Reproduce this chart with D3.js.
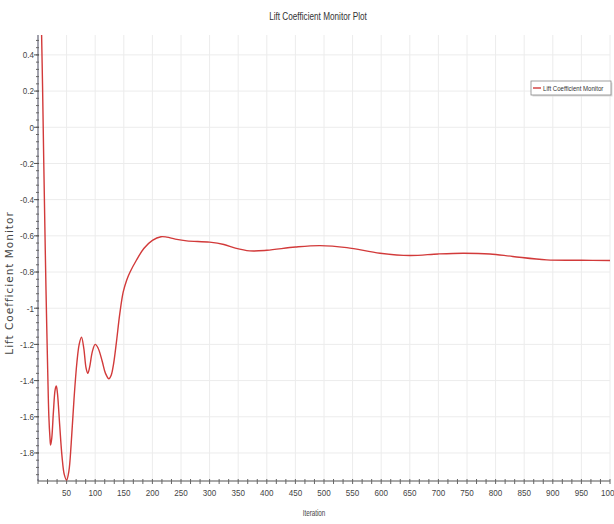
<!DOCTYPE html>
<html>
<head>
<meta charset="utf-8">
<script src="https://cdn.jsdelivr.net/npm/d3@7"></script>
<style>
  html, body { margin: 0; padding: 0; background: #fff; }
  svg { display: block; }
  .narrow { font-family: "Liberation Sans", Arial, sans-serif; }
</style>
</head>
<body>
<svg id="chart" width="614" height="524"></svg>
<script>
// Lift coefficient history over solver iterations
const iterations = [6, 8, 10, 12, 14, 17, 19, 21, 22, 24, 27, 30, 32, 34, 38, 42, 46, 50, 54, 58, 63, 68, 72, 76, 80, 84, 87, 90, 95, 100, 105, 112, 118, 124, 128, 132, 137, 143, 149, 155, 161, 172, 185, 200, 215, 225, 240, 260, 300, 325, 345, 370, 400, 450, 493, 540, 598, 650, 700, 743, 790, 830, 889, 950, 1000];
const liftCoefficient = [0.56, 0.22, -0.18, -0.55, -0.9, -1.35, -1.6, -1.72, -1.757, -1.72, -1.57, -1.45, -1.43, -1.47, -1.65, -1.82, -1.92, -1.95, -1.9, -1.75, -1.5, -1.3, -1.2, -1.16, -1.22, -1.33, -1.36, -1.33, -1.24, -1.2, -1.22, -1.29, -1.36, -1.39, -1.37, -1.31, -1.19, -1.03, -0.91, -0.845, -0.80, -0.735, -0.67, -0.625, -0.605, -0.607, -0.618, -0.628, -0.635, -0.648, -0.668, -0.683, -0.68, -0.662, -0.654, -0.665, -0.696, -0.709, -0.70, -0.696, -0.70, -0.714, -0.733, -0.735, -0.736];

const xTickValues = d3.range(50, 1001, 50);
const yTickValues = [0.4, 0.2, 0, -0.2, -0.4, -0.6, -0.8, -1, -1.2, -1.4, -1.6, -1.8];
const yTickLabels = ["0.4", "0.2", "0", "-0.2", "-0.4", "-0.6", "-0.8", "-1", "-1.2", "-1.4", "-1.6", "-1.8"];

const chartTitle = "Lift Coefficient Monitor Plot";
const xTitle = "Iteration";
const yTitle = "Lift Coefficient Monitor";
const seriesName = "Lift Coefficient Monitor";

const svg = d3.select("#chart");
const plot = { left: 38, right: 610, top: 35, bottom: 481 };

const x = d3.scaleLinear().domain([0, 1000]).range([plot.left, plot.right]);
const y = d3.scaleLinear().domain([-1.955, 0.51]).range([plot.bottom, plot.top]);

// grid
const grid = svg.append("g");
grid.selectAll("line.v").data(xTickValues).join("line")
  .attr("x1", d => x(d)).attr("x2", d => x(d))
  .attr("y1", plot.top).attr("y2", plot.bottom)
  .attr("stroke", "#ececec").attr("stroke-width", 1);
grid.selectAll("line.h").data(yTickValues).join("line")
  .attr("x1", plot.left).attr("x2", plot.right)
  .attr("y1", d => y(d)).attr("y2", d => y(d))
  .attr("stroke", "#ececec").attr("stroke-width", 1);

// minor tick positions
const xMinor = d3.range(0, 1001, 50 / 3).map(v => Math.round(v * 1000) / 1000);
const yMinor = d3.range(-1.92, 0.51, 0.04).map(v => Math.round(v * 100) / 100);

// x axis
const xAxis = svg.append("g").attr("transform", `translate(0,${plot.bottom})`);
xAxis.append("line").attr("x1", plot.left).attr("x2", plot.right)
  .attr("stroke", "#555").attr("stroke-width", 1.2);
xAxis.selectAll("line.minor").data(xMinor).join("line")
  .attr("x1", d => x(d)).attr("x2", d => x(d)).attr("y1", -2).attr("y2", 3)
  .attr("stroke", "#666").attr("stroke-width", 1);
xAxis.selectAll("text").data(xTickValues).join("text")
  .attr("class", "narrow")
  .attr("x", d => x(d)).attr("y", 15)
  .attr("text-anchor", "middle").attr("font-size", 9.5).attr("fill", "#444")
  .attr("transform", d => `translate(${x(d)},0) scale(0.85,1) translate(${-x(d)},0)`)
  .text(d => d);

// y axis
const yAxis = svg.append("g").attr("transform", `translate(${plot.left},0)`);
yAxis.append("line").attr("y1", plot.top).attr("y2", plot.bottom)
  .attr("stroke", "#667").attr("stroke-width", 1.2);
yAxis.selectAll("line.minor").data(yMinor).join("line")
  .attr("y1", d => y(d)).attr("y2", d => y(d)).attr("x1", -2).attr("x2", 1)
  .attr("stroke", "#666").attr("stroke-width", 1);
yAxis.selectAll("line.major").data(yTickValues).join("line")
  .attr("y1", d => y(d)).attr("y2", d => y(d)).attr("x1", -4).attr("x2", 1)
  .attr("stroke", "#555").attr("stroke-width", 1);
yAxis.selectAll("text").data(yTickValues).join("text")
  .attr("class", "narrow")
  .attr("x", -4).attr("y", d => y(d)).attr("dy", "0.35em")
  .attr("text-anchor", "end").attr("font-size", 9.5).attr("fill", "#444")
  .attr("transform", "translate(-4,0) scale(0.85,1) translate(4,0)")
  .text((d, i) => yTickLabels[i]);

// series
svg.append("clipPath").attr("id", "plotClip").append("rect")
  .attr("x", plot.left).attr("y", plot.top)
  .attr("width", plot.right - plot.left).attr("height", plot.bottom - plot.top + 2);

const points = iterations.map((it, i) => [it, liftCoefficient[i]]);
const line = d3.line().x(d => x(d[0])).y(d => y(d[1])).curve(d3.curveCatmullRom.alpha(0.5));
svg.append("path").datum(points)
  .attr("clip-path", "url(#plotClip)")
  .attr("d", line)
  .attr("fill", "none").attr("stroke", "#d23a3a").attr("stroke-width", 1.4);

// titles
svg.append("text").attr("class", "narrow")
  .attr("x", 318).attr("y", 20).attr("text-anchor", "middle")
  .attr("font-size", 10).attr("fill", "#333")
  .attr("transform", "translate(318,0) scale(0.82,1) translate(-318,0)")
  .text(chartTitle);
svg.append("text").attr("class", "narrow")
  .attr("x", 314).attr("y", 516).attr("text-anchor", "middle")
  .attr("font-size", 9).attr("fill", "#444")
  .attr("transform", "translate(314,0) scale(0.7,1) translate(-314,0)")
  .text(xTitle);
svg.append("text")
  .attr("transform", `translate(13,283) rotate(-90)`)
  .attr("text-anchor", "middle")
  .attr("font-family", "DejaVu Sans, sans-serif")
  .attr("font-size", 10.5).attr("fill", "#444")
  .attr("letter-spacing", 1).text(yTitle);

// legend
const legend = svg.append("g").attr("transform", "translate(531,81)");
legend.append("rect").attr("x", 1.5).attr("y", 1.5).attr("width", 80).attr("height", 14)
  .attr("fill", "#ddd");
legend.append("rect").attr("x", 0).attr("y", 0).attr("width", 80).attr("height", 14)
  .attr("fill", "#fff").attr("stroke", "#888").attr("stroke-width", 0.8);
legend.append("line").attr("x1", 2).attr("x2", 10).attr("y1", 7).attr("y2", 7)
  .attr("stroke", "#d23a3a").attr("stroke-width", 1.4);
legend.append("text").attr("class", "narrow")
  .attr("x", 0).attr("y", 0).attr("dy", "0.35em")
  .attr("font-size", 8).attr("fill", "#333")
  .attr("transform", "translate(12,7) scale(0.76,1)")
  .text(seriesName);
</script>
</body>
</html>
